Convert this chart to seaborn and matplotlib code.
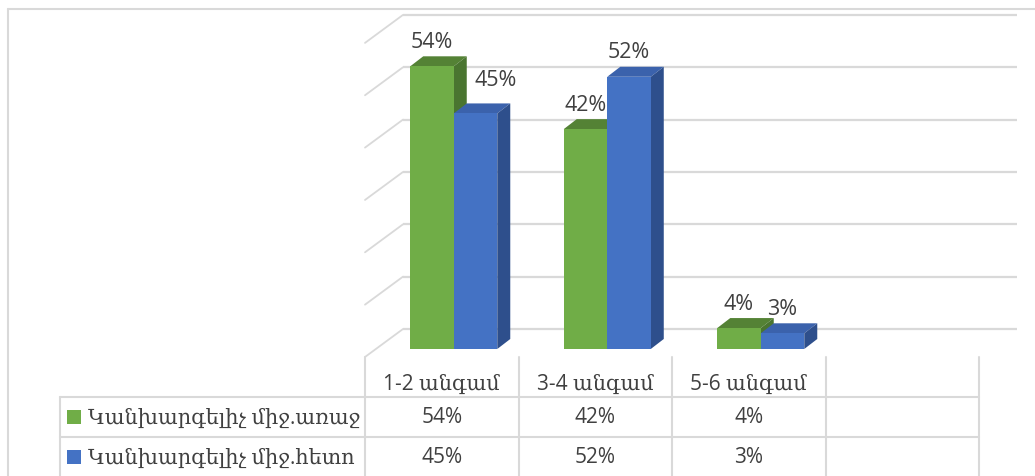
import numpy as np
import pandas as pd
import matplotlib
matplotlib.use("Agg")
import matplotlib.pyplot as plt
from matplotlib.patches import Polygon, Rectangle
import seaborn as sns

# ---- data ----
categories = ["1-2 անգամ", "3-4 անգամ", "5-6 անգամ"]
series_names = ["Կանխարգելիչ միջ.առաջ", "Կանխարգելիչ միջ.հետո"]
before_vals = [54, 42, 4]
after_vals = [45, 52, 3]
value_labels_before = ["54%", "42%", "4%"]
value_labels_after = ["45%", "52%", "3%"]

# ---- styling ----
front_colors = ["#70AD47", "#4472C4"]
top_colors = ["#548235", "#3B62AC"]
side_colors = ["#4A7530", "#2E4F8C"]
grid_color = "#D9D9D9"
text_color = "#404040"
num_font = ["Open Sans", "DejaVu Sans"]
arm_font = ["Open Sans", "DejaVu Serif"]

sns.set_theme(style="white")
plt.rcParams["font.family"] = ["Open Sans", "DejaVu Sans"]

W, H = 1035, 477
fig = plt.figure(figsize=(W / 100, H / 100), dpi=100)
fig.patch.set_facecolor("white")

# plot region geometry (pixels)
PLOT_L = 377          # left edge of first category slot
CAT_W = 153.5         # slot width
N_SLOTS = 4
BASE_Y = 350          # bar baseline
Y_MAX = 60
PX_PER_PCT = 5.235
FRONT_OFF = (-12, 8)  # floor front edge relative to bar front plane
BACK_OFF = (26, -20)  # back wall relative to bar front plane
BAR_DEPTH = (13, -10)

ax = fig.add_axes([PLOT_L / W, (H - BASE_Y) / H,
                   CAT_W * N_SLOTS / W, Y_MAX * PX_PER_PCT / H])


def off(dx_px, dy_px):
    return dx_px / CAT_W, -dy_px / PX_PER_PCT


df = pd.DataFrame({
    "category": categories * 2,
    "series": [series_names[0]] * 3 + [series_names[1]] * 3,
    "value": before_vals + after_vals,
})

sns.barplot(data=df, x="category", y="value", hue="series",
            hue_order=series_names, order=categories,
            palette=front_colors, saturation=1, width=0.567,
            legend=False, ax=ax, edgecolor="none", linewidth=0)
ax.set_xlim(-0.5, N_SLOTS - 0.5)
ax.set_ylim(0, Y_MAX)
ax.axis("off")

# ---- 3D room: back wall grid + left wall diagonals ----
bx, by = off(*BACK_OFF)
fx, fy = off(*FRONT_OFF)
x_left = -0.5
x_right = N_SLOTS - 0.5
for g in range(0, Y_MAX + 1, 10):
    ax.plot([x_left + bx, x_right + bx], [g + by, g + by], color=grid_color,
            lw=1.6, clip_on=False, zorder=0.5, solid_capstyle="butt")
    ax.plot([x_left + fx, x_left + bx], [g + fy, g + by], color=grid_color,
            lw=1.3, clip_on=False, zorder=0.5)

# ---- extrude bars ----
ddx, ddy = off(*BAR_DEPTH)
vals_by_series = [before_vals, after_vals]
labels_by_series = [value_labels_before, value_labels_after]
bars = sorted(ax.patches, key=lambda p: p.get_x())
bar_info = []
for p in bars:
    col = matplotlib.colors.to_hex(p.get_facecolor()).upper()
    s = 0 if col == front_colors[0].upper() else 1
    bar_info.append((p, s))

z = 2
for p, s in bar_info:
    x0, w, h = p.get_x(), p.get_width(), p.get_height()
    top = Polygon([(x0, h), (x0 + w, h), (x0 + w + ddx, h + ddy), (x0 + ddx, h + ddy)],
                  closed=True, facecolor=top_colors[s], edgecolor="none",
                  zorder=z, clip_on=False)
    side = Polygon([(x0 + w, 0), (x0 + w + ddx, ddy), (x0 + w + ddx, h + ddy), (x0 + w, h)],
                   closed=True, facecolor=side_colors[s], edgecolor="none",
                   zorder=z, clip_on=False)
    ax.add_patch(top)
    ax.add_patch(side)
    p.set_zorder(z + 0.5)
    z += 1

# ---- data labels ----
lab_dy = 25 / PX_PER_PCT
for ci in range(len(categories)):
    for s in range(2):
        p = [b for b, ss in bar_info if ss == s][ci]
        val = vals_by_series[s][ci]
        xc = p.get_x() + p.get_width() / 2
        y = val + lab_dy
        # nudge a label that would collide with a taller neighbour on its left
        if s == 1 and vals_by_series[0][ci] > val + 4:
            xc += 20 / CAT_W
            y += 9 / PX_PER_PCT
        ax.text(xc, y, labels_by_series[s][ci], ha="center", va="center",
                fontsize=15.5, color=text_color, family=num_font, zorder=50,
                clip_on=False)

# ---- data table and frame (pixel coordinates) ----
tax = fig.add_axes([0, 0, 1, 1], zorder=-1)
tax.set_xlim(0, W)
tax.set_ylim(H, 0)
tax.axis("off")

lw_t = 1.5
# outer chart border
tax.plot([8, W], [10, 10], color=grid_color, lw=lw_t)
tax.plot([8, 8], [10, H], color=grid_color, lw=lw_t)

col_edges = [PLOT_L + FRONT_OFF[0] + k * CAT_W for k in range(N_SLOTS + 1)]
floor_y = BASE_Y + FRONT_OFF[1]
row_lines = [398, 438]
legend_left = 60
for xe in col_edges:
    tax.plot([xe, xe], [floor_y, H], color=grid_color, lw=lw_t)
for yr in row_lines:
    tax.plot([legend_left, col_edges[-1]], [yr, yr], color=grid_color, lw=lw_t)
tax.plot([legend_left, legend_left], [row_lines[0], H], color=grid_color, lw=lw_t)

# header row
header_y = 384
for k, cat in enumerate(categories):
    xc = (col_edges[k] + col_edges[k + 1]) / 2
    tax.text(xc, header_y, cat, ha="center", va="center", fontsize=15,
             color=text_color, family=arm_font)

# series rows
row_centers = [418, 458]
for s in range(2):
    yc = row_centers[s]
    tax.add_patch(Rectangle((67, yc - 7), 14, 14, facecolor=front_colors[s],
                            edgecolor="none"))
    tax.text(88, yc, series_names[s], ha="left", va="center", fontsize=15,
             color=text_color, family=arm_font)
    for k in range(len(categories)):
        xc = (col_edges[k] + col_edges[k + 1]) / 2
        tax.text(xc, yc, labels_by_series[s][k], ha="center", va="center",
                 fontsize=15, color=text_color, family=num_font)

fig.savefig("out.png", dpi=100, facecolor="white")
